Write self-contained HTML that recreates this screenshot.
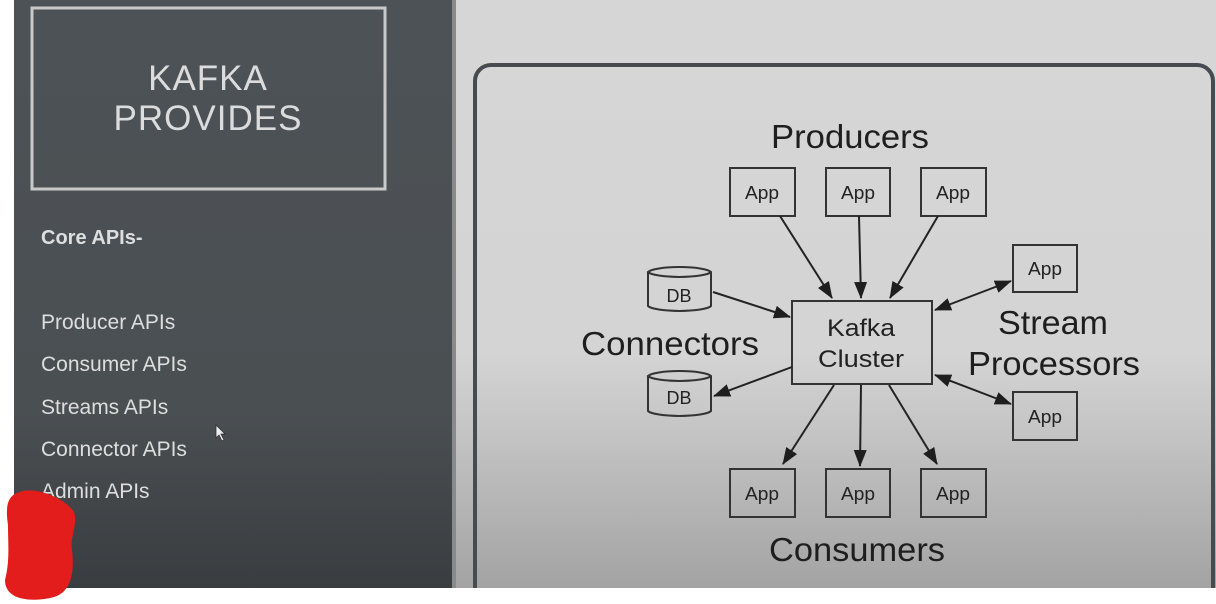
<!DOCTYPE html>
<html><head><style>
html,body{margin:0;padding:0;width:1216px;height:604px;overflow:hidden;background:#fff}
</style></head><body>
<svg width="1216" height="604" xmlns="http://www.w3.org/2000/svg" style="display:block">
<defs>
<linearGradient id="lp" x1="0" y1="0" x2="0" y2="1">
<stop offset="0" stop-color="#4d5256"/><stop offset="0.7" stop-color="#4a4f52"/><stop offset="1" stop-color="#3a3d40"/></linearGradient>
<linearGradient id="rp" x1="0" y1="0" x2="0" y2="1">
<stop offset="0" stop-color="#d6d6d6"/><stop offset="0.6" stop-color="#d4d4d4"/><stop offset="0.72" stop-color="#c6c6c6"/><stop offset="1" stop-color="#a3a3a3"/></linearGradient>
<marker id="ah2" markerWidth="17" markerHeight="13" refX="16" refY="6.5" orient="auto-start-reverse" markerUnits="userSpaceOnUse" viewBox="0 0 17 13">
<path d="M0,0 L17,6.5 L0,13 z" fill="#1e1e1e"/></marker>
</defs>
<rect x="14" y="0" width="438" height="588" fill="url(#lp)"/>
<rect x="452" y="0" width="764" height="588" fill="url(#rp)"/>
<rect x="452" y="0" width="4" height="588" fill="#8a8a8a"/>
<rect x="475" y="65" width="738" height="540" rx="16" fill="none" stroke="#474b4f" stroke-width="4"/>
<rect x="0" y="588" width="1216" height="16" fill="#fff"/>
<rect x="32" y="8" width="353" height="181" fill="none" stroke="#c9c9c9" stroke-width="3"/>
<g font-family="Liberation Sans, sans-serif" fill="#dcdcdc" text-anchor="middle" font-size="35" letter-spacing="1">
<text x="208" y="90">KAFKA</text><text x="208" y="130">PROVIDES</text></g>
<g font-family="Liberation Sans, sans-serif" fill="#dedede" font-size="21">
<text x="41" y="244" font-weight="bold" font-size="20">Core APIs-</text>
<text x="41" y="329">Producer APIs</text>
<text x="41" y="371">Consumer APIs</text>
<text x="41" y="414">Streams APIs</text>
<text x="41" y="456">Connector APIs</text>
<text x="41" y="498">Admin APIs</text></g>
<path d="M216,425 L216,438 L219,435 L222,441 L224,440 L221,434 L225,434 z" fill="#eee" stroke="#333" stroke-width="0.8"/>
<path d="M20,492 C35,486 65,498 74,512 C78,525 70,535 72,550 C75,575 70,595 50,598 C30,602 5,600 5,580 C10,560 8,545 8,525 C5,505 8,495 20,492 z" fill="#e31c1c"/>
<g stroke="#333" stroke-width="2" fill="none">
<rect x="730" y="168" width="65" height="48"/><rect x="826" y="168" width="64" height="48"/><rect x="921" y="168" width="65" height="48"/>
<rect x="730" y="469" width="65" height="48"/><rect x="826" y="469" width="64" height="48"/><rect x="921" y="469" width="65" height="48"/>
<rect x="1013" y="245" width="64" height="47"/><rect x="1013" y="392" width="64" height="48"/>
<rect x="792" y="301" width="140" height="83"/>
<path d="M648,272 L648,306 A32,6 0 0 0 711,306 L711,272 A32,6 0 0 0 648,272 A32,6 0 0 0 711,272"/>
<path d="M648,376 L648,411 A32,6 0 0 0 711,411 L711,376 A32,6 0 0 0 648,376 A32,6 0 0 0 711,376"/>
</g>
<g stroke="#222" stroke-width="2" marker-end="url(#ah2)">
<line x1="780" y1="216" x2="832" y2="298"/><line x1="859" y1="216" x2="861" y2="298"/><line x1="938" y1="216" x2="890" y2="298"/>
<line x1="713" y1="292" x2="790" y2="317"/><line x1="792" y1="367" x2="714" y2="396"/>
<line x1="834" y1="385" x2="783" y2="464"/><line x1="861" y1="385" x2="860" y2="466"/><line x1="889" y1="385" x2="937" y2="464"/>
<line x1="935" y1="310" x2="1011" y2="281" marker-start="url(#ah2)"/>
<line x1="935" y1="375" x2="1011" y2="404" marker-start="url(#ah2)"/>
</g>
<g font-family="Liberation Sans, sans-serif" fill="#222" text-anchor="middle" font-size="18">
<text x="762" y="199" textLength="34" lengthAdjust="spacingAndGlyphs">App</text><text x="858" y="199" textLength="34" lengthAdjust="spacingAndGlyphs">App</text><text x="953" y="199" textLength="34" lengthAdjust="spacingAndGlyphs">App</text>
<text x="762" y="500" textLength="34" lengthAdjust="spacingAndGlyphs">App</text><text x="858" y="500" textLength="34" lengthAdjust="spacingAndGlyphs">App</text><text x="953" y="500" textLength="34" lengthAdjust="spacingAndGlyphs">App</text>
<text x="1045" y="275" textLength="34" lengthAdjust="spacingAndGlyphs">App</text><text x="1045" y="423" textLength="34" lengthAdjust="spacingAndGlyphs">App</text>
<text x="679" y="302">DB</text><text x="679" y="404">DB</text>
<text x="861" y="336" font-size="24" textLength="68" lengthAdjust="spacingAndGlyphs">Kafka</text><text x="861" y="367" font-size="24" textLength="86" lengthAdjust="spacingAndGlyphs">Cluster</text>
</g>
<g font-family="Liberation Sans, sans-serif" fill="#1e1e1e" text-anchor="middle" font-size="33">
<text x="850" y="148" textLength="158" lengthAdjust="spacingAndGlyphs">Producers</text>
<text x="670" y="355" textLength="178" lengthAdjust="spacingAndGlyphs">Connectors</text>
<text x="1053" y="334" textLength="110" lengthAdjust="spacingAndGlyphs">Stream</text><text x="1054" y="375" textLength="172" lengthAdjust="spacingAndGlyphs">Processors</text>
<text x="857" y="561" textLength="176" lengthAdjust="spacingAndGlyphs">Consumers</text>
</g>
</svg>
</body></html>
